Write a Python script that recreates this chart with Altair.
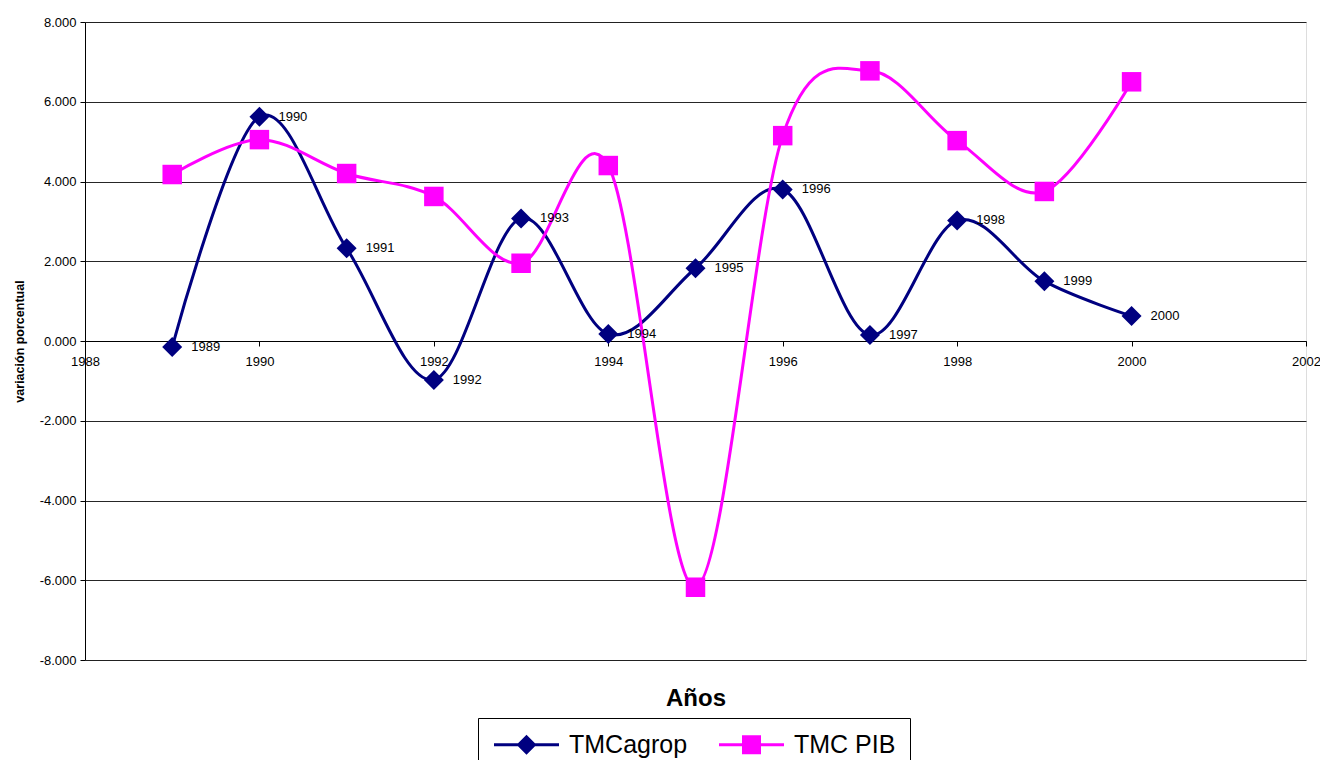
import altair as alt
import pandas as pd

years = [1989, 1990, 1991, 1992, 1993, 1994, 1995, 1996, 1997, 1998, 1999, 2000]
tmc_agrop = [-0.15, 5.625, 2.325, -0.975, 3.075, 0.175, 1.825, 3.80, 0.15, 3.025, 1.50, 0.625]
tmc_pib = [4.175, 5.05, 4.20, 3.625, 1.95, 4.40, -6.175, 5.15, 6.775, 5.025, 3.75, 6.50]

series_names = ["TMCagrop", "TMC PIB"]
series_colors = ["#000080", "#FF00FF"]
x_ticks = [1988, 1990, 1992, 1994, 1996, 1998, 2000, 2002]
y_ticks = [-8, -6, -4, -2, 0, 2, 4, 6, 8]

rows = []
for i, yr in enumerate(years):
    rows.append({"year": yr, "value": tmc_agrop[i], "series": "TMCagrop", "label": str(yr)})
    rows.append({"year": yr, "value": tmc_pib[i], "series": "TMC PIB", "label": str(yr)})
df = pd.DataFrame(rows)

# legend symbols: line segment + marker (filled paths)
legend_paths = [
    "M-3.25,-0.16L3.25,-0.16L3.25,0.16L-3.25,0.16Z M0,-1.0L1.0,0L0,1.0L-1.0,0Z",
    "M-3.25,-0.16L3.25,-0.16L3.25,0.16L-3.25,0.16Z M-0.95,-0.95L0.95,-0.95L0.95,0.95L-0.95,0.95Z",
]

W, H = 1221, 638

x_enc = alt.X(
    "year:Q",
    scale=alt.Scale(domain=[1988, 2002], nice=False, zero=False),
    axis=alt.Axis(
        values=x_ticks, format="d", title="Años", grid=False, labelFlush=False,
        labelOverlap=False,
        offset=-(H / 2), domainColor="black", domainWidth=1,
        tickColor="black", tickSize=5, labelPadding=9,
        labelFontSize=13, labelColor="black", labelFont="Liberation Sans",
        titleFont="Liberation Sans", titleFontSize=24, titleFontWeight="bold",
        titleColor="black", titleY=357, titleBaseline="middle",
    ),
)
y_enc = alt.Y(
    "value:Q",
    scale=alt.Scale(domain=[-8, 8], nice=False),
    axis=alt.Axis(
        values=y_ticks, title="variación porcentual",
        labelExpr="(datum.value < 0 ? '-' : '') + format(abs(datum.value), '.3f')",
        grid=True, gridColor="black", gridWidth=1, gridOpacity=0.85,
        domainColor="black", tickColor="black", tickSize=5, labelPadding=4,
        labelFontSize=13, labelColor="black", labelFont="Liberation Sans",
        labelOverlap=False, labelFlush=False,
        titleFont="Liberation Sans", titleFontSize=12.5, titleFontWeight="bold",
        titleColor="black", titleX=-66, titleY=H / 2, titleAngle=270,
        titleBaseline="middle", titleAlign="center",
    ),
)
color_scale = alt.Scale(domain=series_names, range=series_colors)

base = alt.Chart(df)

lines = base.mark_line(interpolate="cardinal", strokeWidth=3).encode(
    x=x_enc, y=y_enc,
    color=alt.Color("series:N", scale=color_scale, legend=None),
    detail="series:N",
)

diamonds = base.transform_filter(alt.datum.series == "TMCagrop").mark_point(
    shape="diamond", filled=True, size=400, opacity=1
).encode(x="year:Q", y="value:Q", color=alt.Color("series:N", scale=color_scale, legend=None))

squares = base.transform_filter(alt.datum.series == "TMC PIB").mark_point(
    shape="square", filled=True, size=380, opacity=1
).encode(x="year:Q", y="value:Q", color=alt.Color("series:N", scale=color_scale, legend=None))

labels = base.transform_filter(alt.datum.series == "TMCagrop").mark_text(
    align="left", baseline="middle", dx=19, fontSize=13, font="Liberation Sans", color="black"
).encode(x="year:Q", y="value:Q", text="label:N")

leg = alt.Legend(
    title=None, orient="none", legendX=393, legendY=696, direction="horizontal",
    symbolSize=400, symbolOffset=22, symbolOpacity=1, symbolStrokeWidth=0,
    labelOffset=30, labelFontSize=25, labelFont="Liberation Sans", labelColor="black",
    columnPadding=29, padding=14, strokeColor="black", fillColor="white",
)
ghost = base.mark_point(filled=True, opacity=0).encode(
    x="year:Q", y="value:Q",
    color=alt.Color("series:N", scale=color_scale, legend=leg),
    shape=alt.Shape("series:N", scale=alt.Scale(domain=series_names, range=legend_paths), legend=leg),
)

chart = alt.layer(ghost, lines, diamonds, squares, labels).properties(
    width=W, height=H,
    autosize=alt.AutoSizeParams(type="none"),
    padding={"left": 77, "top": 14, "right": 14, "bottom": 100},
).configure_view(stroke="black", strokeWidth=1).configure(background="white")

chart.save("out.html", embed_options={"renderer": "svg", "actions": False})
